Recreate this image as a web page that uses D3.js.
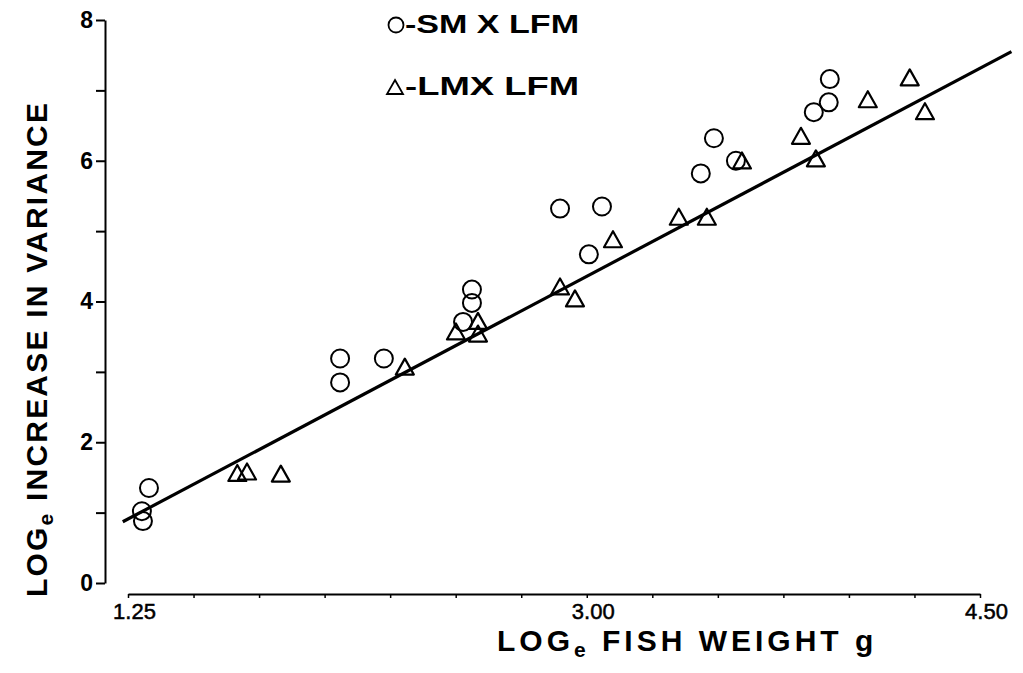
<!DOCTYPE html>
<html>
<head>
<meta charset="utf-8">
<script src="https://cdn.jsdelivr.net/npm/d3@7"></script>
<style>
  html, body { margin: 0; padding: 0; background: #fff; }
  svg { display: block; font-family: "Liberation Sans", Arial, Helvetica, sans-serif; }
</style>
</head>
<body>
<svg id="chart" width="1023" height="673"></svg>
<script>
// SM x LFM crosses (circles)
const smWeight = [1.330, 1.303, 1.307, 2.059, 2.059, 2.226, 2.562, 2.562, 2.528,
                  2.898, 3.058, 3.008, 3.927, 3.923, 3.866, 3.485, 3.435, 3.569];
const smVariance = [1.35, 1.02, 0.88, 3.19, 2.85, 3.19, 4.17, 3.98, 3.71,
                    5.32, 5.35, 4.67, 7.16, 6.83, 6.69, 6.32, 5.82, 6.00];

// LM x LFM crosses (triangles)
const lmWeight = [1.667, 1.704, 1.833, 2.306, 2.501, 2.585, 2.585, 3.100, 2.898,
                  2.955, 3.351, 3.458, 4.232, 4.072, 4.290, 3.817, 3.874, 3.592];
const lmVariance = [1.55, 1.57, 1.54, 3.06, 3.56, 3.71, 3.53, 4.87, 4.20,
                    4.03, 5.19, 5.19, 7.17, 6.86, 6.69, 6.34, 6.02, 5.99];

// fitted regression line end points
const fitWeight = [1.23, 4.62];
const fitVariance = [0.87, 7.55];

// axis ticks
const yTicks = [0, 1, 2, 3, 4, 5, 6, 7, 8];
const yTickLabels = ["0", "", "2", "", "4", "", "6", "", "8"];
const xTicks = [1.25, 1.50, 1.75, 2.00, 2.25, 2.50, 2.75, 3.00, 3.25, 3.50, 3.75, 4.00, 4.25, 4.50];
const xTickLabels = ["1.25", "", "", "", "", "", "", "3.00", "", "", "", "", "", "4.50"];

const svg = d3.select("#chart");
svg.append("rect").attr("width", 1023).attr("height", 673).attr("fill", "#fff");

const x = d3.scaleLinear().domain([1.25, 4.50]).range([128, 980]);
const y = d3.scaleLinear().domain([0, 8]).range([583, 20]);

// y axis
const yAxis = d3.axisLeft(y)
  .tickValues(yTicks)
  .tickSize(9)
  .tickSizeOuter(0)
  .tickPadding(3)
  .tickFormat((d, i) => yTickLabels[i]);
const gy = svg.append("g").attr("transform", "translate(105,0)").call(yAxis);
gy.select(".domain").attr("stroke", "#000").attr("stroke-width", 2);
gy.selectAll(".tick line").attr("stroke", "#000").attr("stroke-width", 2);
gy.selectAll(".tick text")
  .attr("fill", "#000")
  .attr("font-size", 23)
  .attr("font-weight", "bold")
  .attr("font-family", "Liberation Sans, Arial, sans-serif");

// x axis
const xAxis = d3.axisBottom(x)
  .tickValues(xTicks)
  .tickSize(4)
  .tickSizeOuter(0)
  .tickPadding(5)
  .tickFormat((d, i) => xTickLabels[i]);
const gx = svg.append("g").attr("transform", "translate(0,594)").call(xAxis);
gx.select(".domain").attr("stroke", "#000").attr("stroke-width", 2);
gx.selectAll(".tick line").attr("stroke", "#000").attr("stroke-width", 1.5);
gx.selectAll(".tick text")
  .attr("fill", "#000")
  .attr("stroke", "#000")
  .attr("stroke-width", 0.5)
  .attr("dx", 6)
  .attr("font-size", 22)
  .attr("font-family", "Liberation Sans, Arial, sans-serif");

// regression line
const line = d3.line().x(d => x(d[0])).y(d => y(d[1]));
svg.append("path")
  .datum(fitWeight.map((w, i) => [w, fitVariance[i]]))
  .attr("d", line)
  .attr("fill", "none")
  .attr("stroke", "#000")
  .attr("stroke-width", 3.2);

// triangle marker shape centred on the data point
function trianglePath(cx, cy, half, up, down) {
  return `M${cx},${cy - up}L${cx + half},${cy + down}L${cx - half},${cy + down}Z`;
}

// LM x LFM points
svg.append("g").selectAll("path")
  .data(lmWeight.map((w, i) => [w, lmVariance[i]]))
  .join("path")
  .attr("d", d => trianglePath(x(d[0]), y(d[1]), 9, 9, 7))
  .attr("fill", "none")
  .attr("stroke", "#000")
  .attr("stroke-width", 2.2)
  .attr("stroke-linejoin", "round");

// SM x LFM points
svg.append("g").selectAll("circle")
  .data(smWeight.map((w, i) => [w, smVariance[i]]))
  .join("circle")
  .attr("cx", d => x(d[0]))
  .attr("cy", d => y(d[1]))
  .attr("r", 9)
  .attr("fill", "none")
  .attr("stroke", "#000")
  .attr("stroke-width", 2);

// legend
const legend = svg.append("g").attr("font-weight", "bold").attr("font-size", 25).attr("fill", "#000");
legend.append("circle").attr("cx", 396).attr("cy", 25).attr("r", 7.5)
  .attr("fill", "none").attr("stroke", "#000").attr("stroke-width", 1.8);
legend.append("text").attr("x", 405).attr("y", 33)
  .attr("textLength", 174).attr("lengthAdjust", "spacingAndGlyphs")
  .text("-SM X LFM");
legend.append("path").attr("d", trianglePath(395, 88, 8, 8, 6))
  .attr("fill", "none").attr("stroke", "#000").attr("stroke-width", 1.8);
legend.append("text").attr("x", 405).attr("y", 95)
  .attr("textLength", 174).attr("lengthAdjust", "spacingAndGlyphs")
  .text("-LMX LFM");

// x axis title
const xt = svg.append("text")
  .attr("x", 497).attr("y", 651)
  .attr("font-size", 30).attr("font-weight", "bold")
  .attr("letter-spacing", 4)
  .attr("fill", "#000");
xt.append("tspan").text("LOG");
xt.append("tspan").attr("font-size", 21).attr("dy", 6).text("e");
xt.append("tspan").attr("dy", -6).text(" FISH WEIGHT g");

// y axis title
const yt = svg.append("text")
  .attr("transform", "translate(47,597) rotate(-90)")
  .attr("font-size", 30).attr("font-weight", "bold")
  .attr("letter-spacing", 2.2)
  .attr("fill", "#000");
yt.append("tspan").text("LOG");
yt.append("tspan").attr("font-size", 21).attr("dy", 6).text("e");
yt.append("tspan").attr("dy", -6).text(" INCREASE IN VARIANCE");
</script>
</body>
</html>
